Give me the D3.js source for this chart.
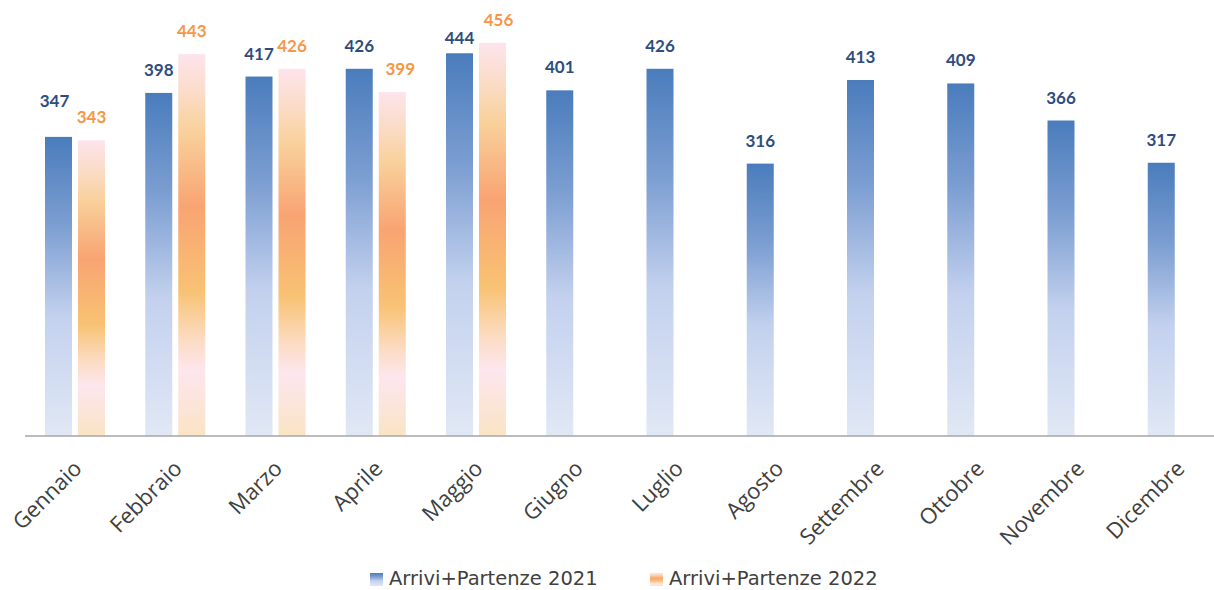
<!DOCTYPE html>
<html>
<head>
<meta charset="utf-8">
<script src="https://cdn.jsdelivr.net/npm/d3@7"></script>
<style>
  body { margin: 0; background: #fff; }
  svg { display: block; }
</style>
</head>
<body>
<div id="chart"></div>
<script>
// dati
var mesi = ["Gennaio", "Febbraio", "Marzo", "Aprile", "Maggio", "Giugno",
            "Luglio", "Agosto", "Settembre", "Ottobre", "Novembre", "Dicembre"];
var valori2021 = [347, 398, 417, 426, 444, 401, 426, 316, 413, 409, 366, 317];
var valori2022 = [343, 443, 426, 399, 456];
var serie = ["Arrivi+Partenze 2021", "Arrivi+Partenze 2022"];

// dimensioni
var width = 1214,
    height = 590;
var x0 = 25, x1 = 1228;
var barW = 27, barGap = 6, inner = 20;

// spostamenti manuali delle etichette (come nel grafico originale)
var nudge = {"0-0": [-4, -13], "0-4": [0, 8], "1-3": [8, 0], "1-4": [6, 0]};

var svg = d3.select("#chart")
  .append("svg")
  .attr("width", width)
  .attr("height", height);

var defs = svg.append("defs");

// gradiente blu
var gBlue = defs.append("linearGradient")
  .attr("id", "gBlue")
  .attr("x1", 0).attr("y1", 0).attr("x2", 0).attr("y2", 1);
[[0, "#4a7cbc"], [0.3, "#7d9fd2"], [0.6, "#c3d1ee"], [1, "#e1e8f5"]].forEach(function(s) {
  gBlue.append("stop").attr("offset", s[0]).attr("stop-color", s[1]);
});

// gradiente arancio
var gOrange = defs.append("linearGradient")
  .attr("id", "gOrange")
  .attr("x1", 0).attr("y1", 0).attr("x2", 0).attr("y2", 1);
[[0, "#fde4ec"], [0.1, "#fbdcc8"], [0.2, "#f9d19c"], [0.4, "#f8a472"],
 [0.62, "#f8c273"], [0.75, "#fcdcc4"], [0.83, "#fde6ee"], [1, "#f9e4c4"]].forEach(function(s) {
  gOrange.append("stop").attr("offset", s[0]).attr("stop-color", s[1]);
});

var xScale = d3.scaleBand()
  .domain(mesi)
  .range([x0, x1]);

var yScale = d3.scaleLinear()
  .domain([0, 500])
  .range([436, 5]);

var coloriBar = ["url(#gBlue)", "url(#gOrange)"];
var coloriTesto = ["#2e4d7e", "#f79646"];

var dati = [valori2021, valori2022];

dati.forEach(function(vals, s) {
  var g = svg.append("g").attr("class", "serie" + s);

  g.selectAll("rect")
    .data(vals)
    .join("rect")
    .attr("x", function(d, i) { return xScale(mesi[i]) + inner + s * (barW + barGap); })
    .attr("y", function(d) { return yScale(d); })
    .attr("width", barW)
    .attr("height", function(d) { return yScale(0) - yScale(d); })
    .attr("fill", coloriBar[s]);

  g.selectAll("text")
    .data(vals)
    .join("text")
    .attr("x", function(d, i) {
      var n = nudge[s + "-" + i] || [0, 0];
      return xScale(mesi[i]) + inner + s * (barW + barGap) + barW / 2 + n[0];
    })
    .attr("y", function(d, i) {
      var n = nudge[s + "-" + i] || [0, 0];
      return yScale(d) - 17 + n[1];
    })
    .attr("text-anchor", "middle")
    .attr("font-family", "Lato, sans-serif")
    .attr("font-weight", "bold")
    .attr("font-size", 17)
    .attr("fill", coloriTesto[s])
    .text(function(d) { return d; });
});

// asse x
svg.append("line")
  .attr("x1", x0)
  .attr("x2", width)
  .attr("y1", yScale(0))
  .attr("y2", yScale(0))
  .attr("stroke", "#a6a6a6")
  .attr("stroke-width", 1.5);

svg.append("g")
  .selectAll("text")
  .data(mesi)
  .join("text")
  .attr("transform", function(d) {
    return "translate(" + (xScale(d) + xScale.bandwidth() / 2 + 8) + ",470) rotate(-45)";
  })
  .attr("text-anchor", "end")
  .attr("font-family", "'Open Sans', sans-serif")
  .attr("font-size", 22)
  .attr("fill", "#404040")
  .text(function(d) { return d; });

// legenda
var legX = [370, 650];
var leg = svg.append("g").attr("class", "legend");
serie.forEach(function(nome, s) {
  leg.append("rect")
    .attr("x", legX[s])
    .attr("y", 573)
    .attr("width", 13)
    .attr("height", 13)
    .attr("fill", coloriBar[s]);
  leg.append("text")
    .attr("x", legX[s] + 19)
    .attr("y", 585)
    .attr("font-family", "'DejaVu Sans', sans-serif")
    .attr("font-size", 19.5)
    .attr("fill", "#404040")
    .text(nome);
});
</script>
</body>
</html>
